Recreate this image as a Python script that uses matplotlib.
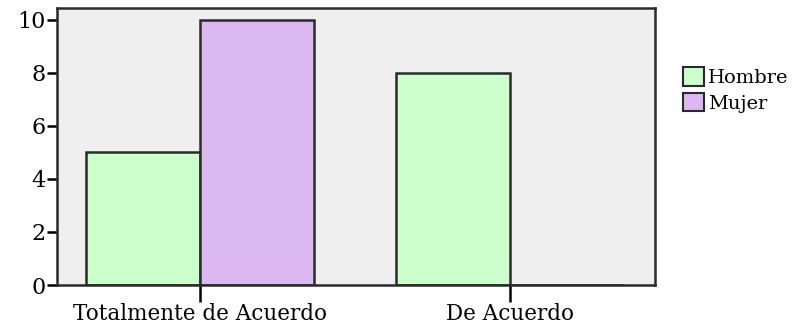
import matplotlib
matplotlib.use("Agg")
import matplotlib.pyplot as plt
import numpy as np

categories = ["Totalmente de Acuerdo", "De Acuerdo"]
series_names = ["Hombre", "Mujer"]
hombre = [5, 8]
mujer = [10, 0]
yticks = [0, 2, 4, 6, 8, 10]

plt.rcParams['font.family'] = ['DejaVu Serif']

fig = plt.figure(figsize=(8.01, 3.31), dpi=100)
ax = fig.add_axes([57/801, 1-285/331, (655-57)/801, (285-8)/331])
ax.set_facecolor("#efefef")

x = np.arange(len(categories))
w = 0.368
ax.bar(x - w/2, hombre, w, color="#ccffcc", edgecolor="#2a2a2a", linewidth=1.8, label=series_names[0])
ax.bar(x + w/2, mujer, w, color="#dcb8f0", edgecolor="#2a2a2a", linewidth=1.8, label=series_names[1])

ax.set_xlim(-0.461, 1.468)
ax.set_ylim(0, 10.45)
ax.set_yticks(yticks)
ax.set_xticks(x)
ax.set_xticklabels(categories, fontsize=15.5)
ax.tick_params(axis='y', labelsize=16, length=7, width=1.8, direction='out', pad=1)
ax.tick_params(axis='x', length=12, width=1.8, direction='out', pad=1)
for s in ax.spines.values():
    s.set_linewidth(1.8)
    s.set_color("#2a2a2a")

leg = fig.legend(loc="upper left", bbox_to_anchor=(683/801, 1-67/331), frameon=False,
                 fontsize=14, handlelength=1.1, handleheight=1.1, handletextpad=0.2,
                 borderaxespad=0, borderpad=0, labelspacing=0.3)
for p in leg.get_patches():
    p.set_linewidth(1.5)
fig.savefig("out.png", dpi=100)
